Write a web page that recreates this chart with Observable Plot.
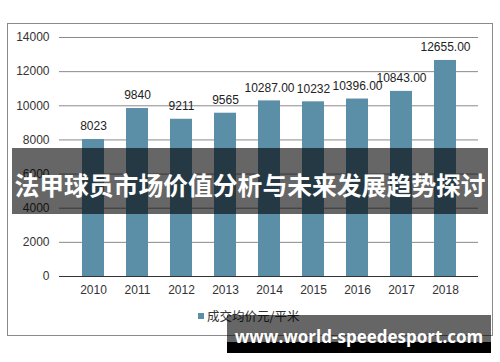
<!DOCTYPE html>
<html>
<head>
<meta charset="utf-8">
<script src="https://cdn.jsdelivr.net/npm/d3@7"></script>
<script src="https://cdn.jsdelivr.net/npm/@observablehq/plot@0.6"></script>
<style>
  html, body { margin: 0; padding: 0; background: #fff; }
  #wrap { position: relative; width: 500px; height: 362px; overflow: hidden; font-family: "Liberation Sans", Arial, sans-serif; }
  #frame { position: absolute; left: 7px; top: 23px; width: 484px; height: 311px; border: 1px solid #8a8a8a; box-sizing: content-box; }
  #chart { position: absolute; left: 0; top: 0; }
  #legend { position: absolute; left: 198px; top: 307px; font-size: 12.5px; color: #333; font-family: "Noto Sans CJK SC", sans-serif; white-space: nowrap; line-height: 18px; }
  #legend .sw { display: inline-block; width: 6px; height: 6px; background: #5b8fa7; margin-right: 3px; vertical-align: 2px; }
  #banner { position: absolute; left: 12px; top: 148px; width: 476px; height: 66px; background: rgba(0,0,0,0.6); }
  #bannerText { position: absolute; left: 0; width: 500px; top: 166px; text-align: center; color: #fff; font-weight: bold; font-size: 24.8px; line-height: 36px; font-family: "Noto Sans CJK SC", sans-serif; white-space: nowrap; }
  #wm { position: absolute; left: 227px; top: 315px; width: 264px; height: 38px; }
  #wm .g { position: absolute; left: 0; top: 0; width: 264px; height: 27px; background: rgba(0,0,0,0.6); }
  #wm .b { position: absolute; left: 0; top: 27px; width: 264px; height: 11px; background: #000; }
  #wm .t { position: absolute; left: 0; width: 264px; top: 12px; text-align: center; color: #fff; font-weight: bold; font-size: 17px; line-height: 20px; font-family: "Open Sans", sans-serif; white-space: nowrap; }
</style>
</head>
<body>
<div id="wrap">
  <div id="chart"></div>
  <div id="frame"></div>
  <div id="legend"><span class="sw"></span>成交均价元/平米</div>
  <div id="banner"></div>
  <div id="bannerText">法甲球员市场价值分析与未来发展趋势探讨</div>
  <div id="wm"><div class="g"></div><div class="b"></div><div class="t">www.world-speedesport.com</div></div>
</div>
<script>
const years = ["2010","2011","2012","2013","2014","2015","2016","2017","2018"];
const values = [8023, 9840, 9211, 9565, 10287, 10232, 10396, 10843, 12655];
const labels = ["8023","9840","9211","9565","10287.00","10232","10396.00","10843.00","12655.00"];
const yTicks = [0,2000,4000,6000,8000,10000,12000,14000];
const seriesName = "成交均价元/平米";

const data = years.map((y, i) => ({year: y, value: values[i], label: labels[i]}));

const plot = Plot.plot({
  width: 500,
  height: 362,
  marginTop: 37,
  marginBottom: 86,
  marginLeft: 59,
  marginRight: 22,
  style: { fontFamily: "'Liberation Sans', Arial, sans-serif", fontSize: "12px", color: "#333", background: "transparent" },
  x: { domain: years, padding: 0.5, label: null },
  y: { domain: [0, 14000], label: null },
  marks: [
    Plot.ruleY(yTicks.filter(d => d > 0), { stroke: "#8a8a8a", strokeWidth: 1 }),
    Plot.barY(data, { x: "year", y: "value", fill: "#5b8fa7" }),
    Plot.ruleY([0], { stroke: "#333", strokeWidth: 1 }),
    Plot.text(data, { x: "year", y: "value", text: "label", dy: -13, fill: "#222", fontSize: 12 }),
    Plot.axisY({ ticks: yTicks, tickSize: 0, tickPadding: 10, tickFormat: d => String(d), fontSize: 12, fill: "#333" }),
    Plot.axisX({ tickSize: 0, tickPadding: 9, fontSize: 12, fill: "#333" })
  ]
});
document.getElementById("chart").appendChild(plot);
</script>
</body>
</html>
